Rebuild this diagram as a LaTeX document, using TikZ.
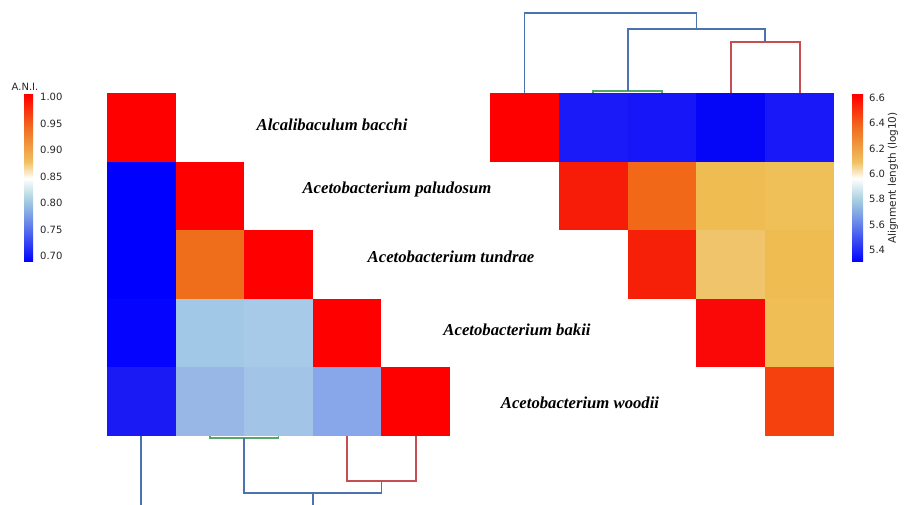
\documentclass[tikz,border=0pt]{standalone}
\usepackage{fontspec}
\newfontfamily\labfont{Liberation Serif}
\newfontfamily\cbfont{DejaVu Sans}
\definecolor{dBlue}{HTML}{4C72B0}
\definecolor{dRed}{HTML}{C44E52}
\definecolor{dGreen}{HTML}{55A868}
\definecolor{cmB}{HTML}{0000FF}
\definecolor{cmMB}{HTML}{7090E8}
\definecolor{cmLB}{HTML}{A8D0E0}
\definecolor{cmGold}{HTML}{F0C060}
\definecolor{cmOr}{HTML}{F07020}
\definecolor{cmR}{HTML}{FF0000}
\definecolor{txt}{HTML}{262626}
\pgfdeclareverticalshading{cmapshade}{100bp}{color(0bp)=(cmB); color(25bp)=(cmB); color(37.5bp)=(cmMB); color(43.75bp)=(cmLB); color(50bp)=(white); color(55bp)=(cmGold); color(65bp)=(cmOr); color(75bp)=(cmR); color(100bp)=(cmR)}
\newcommand\cellL[3]{\definecolor{tmpc}{HTML}{#3}\fill[tmpc] ({107+68.6*#1},{93+68.6*#2}) rectangle +(68.6,68.6);}
\newcommand\cellR[3]{\definecolor{tmpc}{HTML}{#3}\fill[tmpc] ({490+68.8*#1},{93+68.6*#2}) rectangle +(68.8,68.6);}
\begin{document}
\begin{tikzpicture}[x=1pt,y=-1pt,
  species/.style={font=\labfont\bfseries\itshape\fontsize{16.7}{20}\selectfont, anchor=base, inner sep=0pt, text=black},
  tick/.style={font=\cbfont\fontsize{10}{12}\selectfont, anchor=west, inner sep=0pt, text=txt},
  dendro/.style={line width=1.8pt, line cap=butt, line join=miter},
  cbar/.style={shading=cmapshade}]
\useasboundingbox (0,0) rectangle (908,505);
% ---------- left heat map (A.N.I.) ----------
\cellL{0}{0}{FF0000}
\cellL{0}{1}{0000FF}\cellL{1}{1}{FF0000}
\cellL{0}{2}{0000FF}\cellL{1}{2}{EE6E1C}\cellL{2}{2}{FF0000}
\cellL{0}{3}{0505FF}\cellL{1}{3}{A2C8E8}\cellL{2}{3}{A6CAE8}\cellL{3}{3}{FF0000}
\cellL{0}{4}{1A1AF5}\cellL{1}{4}{98B6E6}\cellL{2}{4}{A2C4E6}\cellL{3}{4}{88A6EA}\cellL{4}{4}{FF0000}
% ---------- right heat map (alignment length) ----------
\cellR{0}{0}{FF0000}\cellR{1}{0}{1A1AF8}\cellR{2}{0}{1616F8}\cellR{3}{0}{0505F8}\cellR{4}{0}{1818F8}
\cellR{1}{1}{F61C08}\cellR{2}{1}{F06818}\cellR{3}{1}{EEBC50}\cellR{4}{1}{F0C058}
\cellR{2}{2}{F62008}\cellR{3}{2}{F0C46A}\cellR{4}{2}{EEBC50}
\cellR{3}{3}{FA0808}\cellR{4}{3}{EFBF55}
\cellR{4}{4}{F5410E}
% ---------- species labels ----------
\node[species] (sp1) at (332,131) {Alcalibaculum bacchi};
\node[species] (sp2) at (397,194) {Acetobacterium paludosum};
\node[species] (sp3) at (451,263) {Acetobacterium tundrae};
\node[species] (sp4) at (517,335) {Acetobacterium bakii};
\node[species] (sp5) at (580,408) {Acetobacterium woodii};
% ---------- top dendrogram (right map) ----------
\coordinate (t0) at (524.4,93); \coordinate (t1) at (593.2,93); \coordinate (t2) at (662,93);
\coordinate (t3) at (730.8,93); \coordinate (t4) at (799.6,93);
\draw[dendro, dGreen] (t1) -- (593.2,91) -- (662,91) -- (t2);
\draw[dendro, dRed] (t3) -- (730.8,42) -- (799.6,42) -- (t4);
\coordinate (tg) at (627.6,91); \coordinate (tr) at (765.2,42);
\draw[dendro, dBlue] (tg) -- (627.6,29) -- (765.2,29) -- (tr);
\coordinate (tb) at (696.4,29);
\draw[dendro, dBlue] (t0) -- (524.4,13) -- (696.4,13) -- (tb);
% ---------- bottom dendrogram (left map) ----------
\coordinate (b0) at (141.3,436); \coordinate (b1) at (209.9,436); \coordinate (b2) at (278.5,436);
\coordinate (b3) at (347.1,436); \coordinate (b4) at (415.7,436);
\draw[dendro, dGreen] (b1) -- (209.9,438) -- (278.5,438) -- (b2);
\draw[dendro, dRed] (b3) -- (347.1,481) -- (415.7,481) -- (b4);
\coordinate (bg) at (244.2,438); \coordinate (br) at (381.4,481);
\draw[dendro, dBlue] (bg) -- (244.2,493) -- (381.4,493) -- (br);
\coordinate (bb) at (312.8,493); \coordinate (bbEnd) at (312.8,505);
\coordinate (b0End) at (141.3,505);
\draw[dendro, dBlue] (bb) -- (bbEnd);
\draw[dendro, dBlue] (b0) -- (b0End);
% ---------- left colour bar ----------
\shade[cbar] (24,95) rectangle (33,262);
\node[font=\cbfont\fontsize{10}{12}\selectfont, text=txt, inner sep=0pt] (aniT) at (25,87) {A.N.I.};
\foreach \v [count=\i from 0] in {1.00,0.95,0.90,0.85,0.80,0.75,0.70}
  \node[tick] (lt\i) at (40,{97+26.5*\i}) {\v};
% ---------- right colour bar ----------
\shade[cbar] (852,95) rectangle (863,262);
\foreach \v [count=\i from 0] in {6.6,6.4,6.2,6.0,5.8,5.6,5.4}
  \node[tick] (rt\i) at (869,{98+25.3*\i}) {\v};
\node[font=\cbfont\fontsize{10.5}{12}\selectfont, text=txt, rotate=90, inner sep=0pt] (alT) at (893,178) {Alignment length (log10)};
\end{tikzpicture}
\end{document}
